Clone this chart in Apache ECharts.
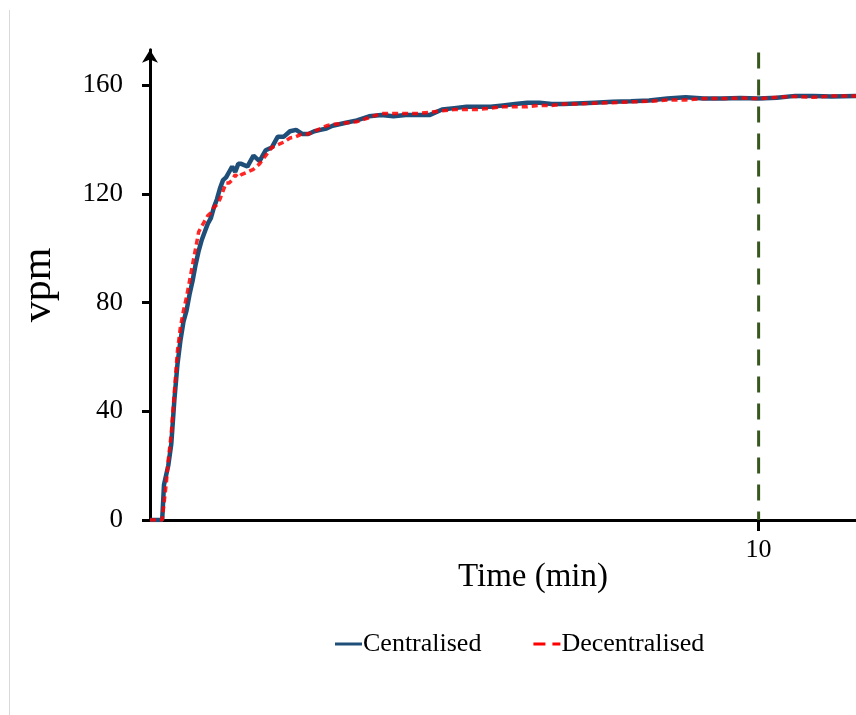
<!DOCTYPE html>
<html>
<head>
<meta charset="utf-8">
<script src="https://cdn.jsdelivr.net/npm/echarts@6/dist/echarts.min.js"></script>
<style>html,body{margin:0;padding:0;background:#fff;}#c{width:856px;height:715px;}</style>
</head>
<body>
<div id="c"></div>
<script>
const times = [0, 0.2, 0.23, 0.27, 0.3, 0.35, 0.4, 0.45, 0.5, 0.55, 0.6, 0.65, 0.7, 0.75, 0.8, 0.85, 0.9, 0.95, 1.0, 1.05, 1.1, 1.15, 1.2, 1.25, 1.3, 1.35, 1.4, 1.45, 1.5, 1.6, 1.7, 1.8, 1.9, 2.0, 2.1, 2.2, 2.3, 2.4, 2.5, 2.6, 2.7, 2.8, 2.9, 3.0, 3.2, 3.4, 3.6, 3.8, 4.0, 4.2, 4.4, 4.6, 4.8, 5.0, 5.2, 5.4, 5.6, 5.8, 6.0, 6.2, 6.4, 6.6, 6.8, 7.0, 7.3, 7.6, 7.9, 8.2, 8.5, 8.8, 9.1, 9.4, 9.7, 10.0, 10.3, 10.6, 10.9, 11.2, 11.6];
const centralised = [0, 0, 13, 17, 20, 28, 44, 57, 66, 73, 77, 83, 88, 94, 99, 103, 106, 109, 111, 115, 118, 122, 125, 126, 128, 130, 128, 131, 131, 130, 134, 132, 136, 137, 141, 141, 143, 143.5, 142, 142, 143, 143.5, 144, 145, 146, 147, 148.5, 149, 148.5, 149, 149, 149, 151, 151.5, 152, 152, 152, 152.5, 153, 153.5, 153.5, 153, 153, 153.2, 153.5, 153.8, 154, 154.3, 155, 155.5, 155, 155, 155.2, 155, 155.3, 156, 156, 155.8, 156];
const decentralised = [0, 0, 6, 14, 22, 32, 47, 62, 71, 77, 82, 88, 94, 100, 106, 108, 110, 112, 113, 115, 116, 118, 121, 124, 124, 125, 127, 126, 127, 128, 129, 131, 134, 137, 138, 139, 140.5, 141, 142, 142, 143, 144, 145, 145.5, 146, 146.5, 148, 149.5, 149.5, 149.5, 149.5, 150, 150.5, 151, 151, 151, 151.5, 152, 152, 152, 152.5, 152.5, 153, 153, 153.3, 153.5, 153.8, 154, 154.5, 154.5, 155, 155, 155.2, 155, 155.5, 155.8, 155.5, 156, 156];
const markerTime = 10;
const markerTop = 172;
const yTicks = [0, 40, 80, 120, 160];
const xTicks = [10];

const FONT = "'Liberation Serif', 'Times New Roman', serif";
const chart = echarts.init(document.getElementById('c'));
chart.setOption({
  animation: false,
  backgroundColor: '#ffffff',
  grid: { left: 150, right: 0, top: 49.66, bottom: 195, containLabel: false },
  legend: {
    left: 330, top: 626,
    itemWidth: 27, itemHeight: 3, itemGap: 52,
    textStyle: { fontFamily: FONT, fontSize: 26, color: '#000', padding: [0, 0, 0, -4] },
    data: [
      { name: 'Centralised', icon: 'path://M0,0H27V3H0Z', itemStyle: { color: '#1f4e79' } },
      { name: 'Decentralised', icon: 'path://M0,0H12V3H0Z M19,0H27V3H19Z', itemStyle: { color: '#ff0000' } }
    ]
  },
  xAxis: {
    type: 'value', min: 0, max: 11.6,
    name: 'Time (min)', nameLocation: 'middle', nameGap: 41, nameMoveOverlap: false,
    nameTextStyle: { fontFamily: FONT, fontSize: 33, color: '#000', padding: [0, 0, 0, 60] },
    axisLine: { lineStyle: { color: '#000', width: 3 } },
    axisTick: { show: true, customValues: xTicks, length: 11, lineStyle: { color: '#000', width: 3 } },
    axisLabel: { customValues: xTicks, fontFamily: FONT, fontSize: 26, color: '#000', margin: 17 },
    splitLine: { show: false }
  },
  yAxis: {
    type: 'value', min: 0, max: 173,
    name: 'vpm', nameLocation: 'middle', nameGap: 90, nameRotate: 90, nameMoveOverlap: false,
    nameTextStyle: { fontFamily: FONT, fontSize: 42, color: '#000' },
    axisLine: { show: true, symbol: ['none', 'arrow'], symbolSize: [12, 13], lineStyle: { color: '#000', width: 3 } },
    axisTick: { show: true, customValues: yTicks, length: 8, lineStyle: { color: '#000', width: 3 } },
    axisLabel: { customValues: yTicks, fontFamily: FONT, fontSize: 27, color: '#000', margin: 27 },
    splitLine: { show: false }
  },
  graphic: [{
    type: 'line', silent: true,
    shape: { x1: 9.5, y1: 10, x2: 9.5, y2: 715 },
    style: { stroke: '#d9d9d9', lineWidth: 1 }
  }],
  series: [
    {
      name: 'Marker', type: 'line', symbol: 'none', silent: true,
      data: [[markerTime, markerTop], [markerTime, 0]],
      lineStyle: { color: '#38571f', width: 3, type: [16, 11] },
      z: 1
    },
    {
      name: 'Centralised', type: 'line', symbol: 'none',
      data: times.map((t, i) => [t, centralised[i]]),
      lineStyle: { color: '#1f4e79', width: 4.5 },
      itemStyle: { color: '#1f4e79' },
      z: 2
    },
    {
      name: 'Decentralised', type: 'line', symbol: 'none',
      data: times.map((t, i) => [t, decentralised[i]]),
      lineStyle: { color: '#ff0000', width: 3.5, type: [6, 4], opacity: 0.85 },
      itemStyle: { color: '#ff0000' },
      z: 3
    }
  ]
});
</script>
</body>
</html>
